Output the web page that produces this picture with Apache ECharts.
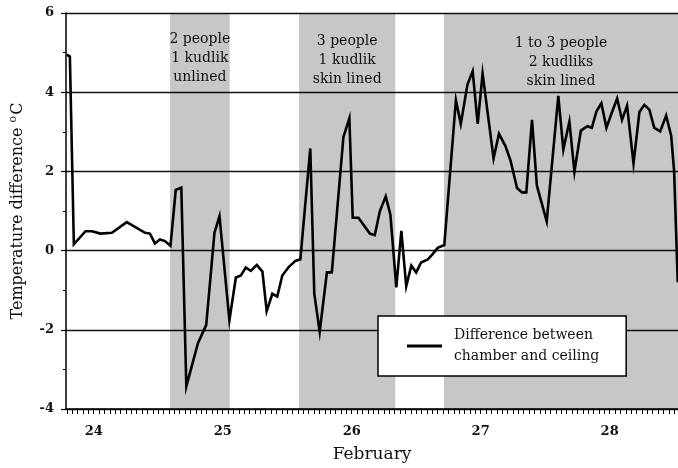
<!DOCTYPE html>
<html>
<head>
<meta charset="utf-8">
<script src="https://cdn.jsdelivr.net/npm/echarts@6/dist/echarts.min.js"></script>
<style>
  html, body { margin: 0; padding: 0; background: #fff; }
  #chart { width: 678px; height: 468px; }
</style>
</head>
<body>
<div id="chart"></div>
<script>
// time in days of February
const days = [23.792, 23.815, 23.846, 23.936, 23.987, 24.052, 24.141, 24.256, 24.398, 24.436,
  24.475, 24.513, 24.552, 24.595, 24.636, 24.679, 24.718, 24.808, 24.872, 24.936,
  24.975, 25.052, 25.102, 25.141, 25.179, 25.218, 25.264, 25.308, 25.341, 25.385,
  25.423, 25.462, 25.513, 25.564, 25.602, 25.679, 25.71, 25.752, 25.808, 25.846,
  25.936, 25.982, 26.008, 26.052, 26.09, 26.141, 26.179, 26.218, 26.264, 26.3,
  26.346, 26.385, 26.423, 26.462, 26.5, 26.538, 26.59, 26.628, 26.667, 26.718,
  26.808, 26.846, 26.898, 26.938, 26.977, 27.015, 27.1, 27.142, 27.192, 27.231,
  27.282, 27.321, 27.354, 27.398, 27.436, 27.512, 27.602, 27.641, 27.688, 27.727,
  27.777, 27.827, 27.862, 27.898, 27.936, 27.975, 28.013, 28.058, 28.096, 28.135,
  28.185, 28.231, 28.269, 28.308, 28.346, 28.392, 28.438, 28.477, 28.5, 28.528]

// temperature difference chamber - ceiling (°C)
const tempDiff = [4.95, 4.9, 0.16, 0.49, 0.49, 0.43, 0.45, 0.72, 0.45, 0.43,
  0.18, 0.28, 0.24, 0.12, 1.53, 1.59, -3.43, -2.34, -1.88, 0.45,
  0.87, -1.76, -0.68, -0.63, -0.43, -0.51, -0.36, -0.53, -1.53, -1.09,
  -1.16, -0.63, -0.41, -0.26, -0.22, 2.58, -1.09, -2.05, -0.55, -0.55,
  2.87, 3.34, 0.83, 0.83, 0.66, 0.43, 0.39, 0.99, 1.37, 0.91,
  -0.93, 0.5, -0.9, -0.38, -0.55, -0.3, -0.22, -0.09, 0.07, 0.14,
  3.8, 3.2, 4.2, 4.53, 3.2, 4.47, 2.33, 2.95, 2.64, 2.28,
  1.58, 1.47, 1.47, 3.3, 1.64, 0.74, 3.91, 2.55, 3.26, 1.99,
  3.03, 3.14, 3.1, 3.52, 3.72, 3.1, 3.45, 3.84, 3.3, 3.66,
  2.2, 3.5, 3.68, 3.56, 3.1, 3.01, 3.41, 2.9, 2.0, -0.8]

// occupied periods (shaded)
const shadeStart = [24.592, 25.592, 26.715]
const shadeEnd = [25.054, 26.338, 28.53]
const shadeNotes = ["2 people\n1 kudlik\nunlined", "3 people\n1 kudlik\nskin lined", "1 to 3 people\n2 kudliks\nskin lined"]

const dayLabels = [24, 25, 26, 27, 28]
const xMin = 23.785
const xMax = 28.53

// hourly ticks along the time axis
let hourTicks = []
for (let h = Math.ceil(xMin * 24); h / 24 <= xMax; h++) {
  hourTicks.push(h / 24)
}

const serif = "DejaVu Serif"
const noteOffsets = [17, 19, 21]

let myChart = echarts.init(document.getElementById("chart"))
myChart.setOption({
  animation: false,
  backgroundColor: "#fff",
  grid: { left: 62, right: 0, top: 13, bottom: 55 },
  legend: {
    left: 378,
    top: 316,
    padding: [9, 27, 9, 29],
    itemWidth: 35,
    itemHeight: 3,
    icon: "rect",
    backgroundColor: "#fff",
    borderColor: "#000",
    borderWidth: 1.5,
    borderRadius: 0,
    textStyle: { fontFamily: serif, fontSize: 14, color: "#111", lineHeight: 21, padding: [0, 0, 0, 7] },
    data: ["Difference between\nchamber and ceiling"],
  },
  xAxis: {
    type: "value",
    min: xMin,
    max: xMax,
    name: "February",
    nameLocation: "middle",
    nameGap: 37,
    nameTextStyle: { fontFamily: serif, fontSize: 17, color: "#111" },
    axisLine: { onZero: false, lineStyle: { color: "#000", width: 1.5 } },
    axisTick: { customValues: hourTicks, length: 5, lineStyle: { color: "#000", width: 1 } },
    axisLabel: {
      customValues: dayLabels,
      margin: 16,
      fontFamily: serif,
      fontSize: 13,
      fontWeight: "bold",
      color: "#111",
    },
    splitLine: { show: false },
  },
  yAxis: {
    type: "value",
    min: -4,
    max: 6,
    interval: 2,
    name: "Temperature difference {sup|o}C",
    nameLocation: "middle",
    nameGap: 39,
    nameTextStyle: {
      fontFamily: serif,
      fontSize: 16,
      color: "#111",
      rich: { sup: { fontFamily: serif, fontSize: 11, color: "#111", verticalAlign: "top", padding: [0, 1, 8, 0] } },
    },
    axisLine: { show: true, lineStyle: { color: "#000", width: 1.5 } },
    axisTick: { show: true, length: 5, lineStyle: { color: "#000", width: 1.2 } },
    minorTick: { show: true, splitNumber: 2, length: 3, lineStyle: { color: "#000", width: 1 } },
    axisLabel: { margin: 12, fontFamily: serif, fontSize: 13, fontWeight: "bold", color: "#111" },
    splitLine: { show: true, lineStyle: { color: "#111", width: 1.3 } },
  },
  series: [
    {
      name: "Difference between\nchamber and ceiling",
      type: "line",
      symbol: "none",
      data: days.map((d, i) => [d, tempDiff[i]]),
      lineStyle: { color: "#000", width: 2.6, join: "miter" },
      itemStyle: { color: "#000" },
      markArea: {
        silent: true,
        itemStyle: { color: "rgba(0,0,0,0.22)" },
        label: {
          show: true,
          position: "insideTop",
          fontFamily: serif,
          fontSize: 14,
          lineHeight: 19,
          color: "#111",
        },
        data: shadeStart.map((s, i) => [
          { xAxis: s, name: shadeNotes[i], label: { distance: noteOffsets[i] } },
          { xAxis: shadeEnd[i] },
        ]),
      },
    },
  ],
})

window.addEventListener("resize", () => {
  myChart.resize()
})
</script>
</body>
</html>
